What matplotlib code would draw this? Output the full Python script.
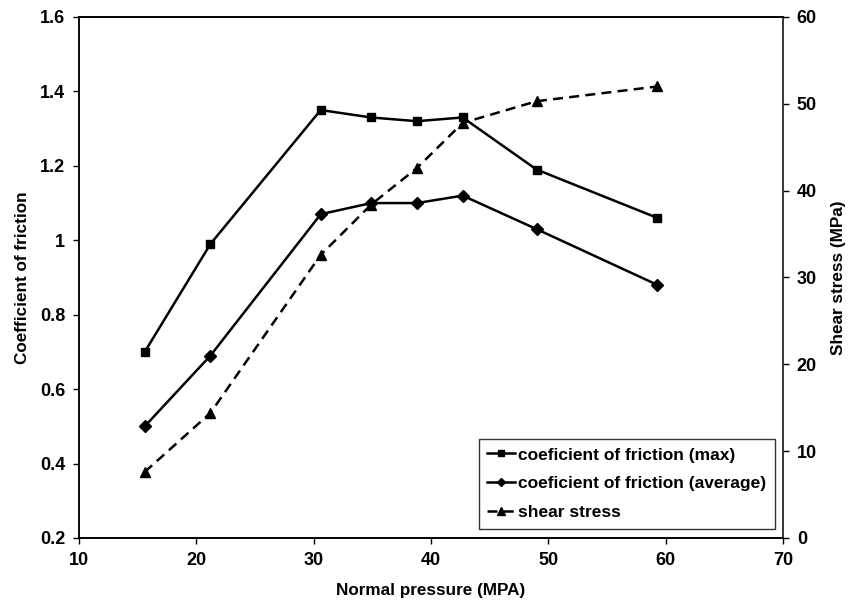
import numpy as np
import matplotlib.pyplot as plt
from matplotlib.ticker import FuncFormatter

plt.rcParams['font.family'] = ['Liberation Sans', 'DejaVu Sans']
plt.rcParams['font.weight'] = 'bold'

pressure = [15.6, 21.2, 30.6, 34.9, 38.8, 42.7, 49.0, 59.3]
cof_max = [0.70, 0.99, 1.35, 1.33, 1.32, 1.33, 1.19, 1.06]
cof_avg = [0.50, 0.69, 1.07, 1.10, 1.10, 1.12, 1.03, 0.88]
shear = [7.6, 14.4, 32.6, 38.4, 42.6, 47.8, 50.3, 52.0]

fig = plt.figure(figsize=(8.56, 6.07), dpi=100)
ax = fig.add_axes([0.0923, 0.1137, 0.8224, 0.8583])
ax2 = ax.twinx()

l1, = ax.plot(pressure, cof_max, 'k-', marker='s', markersize=6, linewidth=1.8,
              label='coeficient of friction (max)')
l2, = ax.plot(pressure, cof_avg, 'k-', marker='D', markersize=6, linewidth=1.8,
              label='coeficient of friction (average)')
l3, = ax2.plot(pressure, shear, 'k--', marker='^', markersize=7, linewidth=1.8,
               dashes=(4, 2.5), label='shear stress')

ax.set_xlim(10, 70)
ax.set_ylim(0.2, 1.6)
ax2.set_ylim(0, 60)
ax.set_xticks(np.arange(10, 71, 10))
ax.set_yticks(np.arange(0.2, 1.61, 0.2))
ax2.set_yticks(np.arange(0, 61, 10))
ax.yaxis.set_major_formatter(FuncFormatter(lambda v, p: f'{v:g}'))

for a in (ax, ax2):
    a.tick_params(direction='out', length=4, width=1, labelsize=13, pad=6)
    for s in a.spines.values():
        s.set_linewidth(1.2)
    for lab in a.get_xticklabels() + a.get_yticklabels():
        lab.set_fontweight('bold')
ax.spines['left'].set_color('#404040')
ax2.spines['right'].set_color('#404040')

ax.set_xlabel('Normal pressure (MPA)', fontsize=12.3, fontweight='bold', labelpad=10)
ax.set_ylabel('Coefficient of friction', fontsize=12.3, fontweight='bold', labelpad=7)
ax2.set_ylabel('Shear stress (MPa)', fontsize=12.3, fontweight='bold', labelpad=10)

leg = ax2.legend(handles=[l1, l2, l3], loc='lower right', bbox_to_anchor=(0.989, 0.018),
                 frameon=True, fancybox=False, edgecolor='black', markerscale=0.75,
                 handlelength=1.6, handletextpad=0.2, borderpad=0.5, labelspacing=0.78,
                 borderaxespad=0, prop={'weight': 'bold', 'size': 12.5})
leg.get_frame().set_linewidth(1.0)

fig.savefig('out.png', dpi=100)
